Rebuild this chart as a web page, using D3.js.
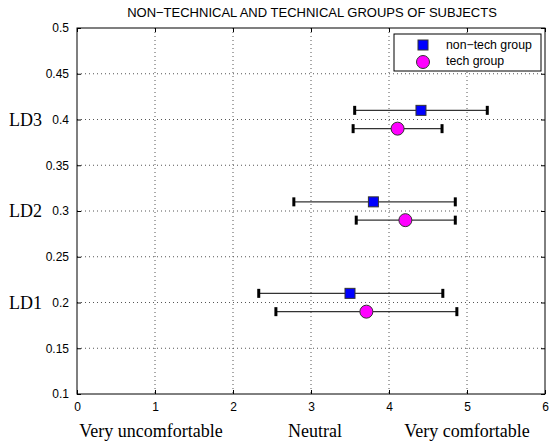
<!DOCTYPE html>
<html lang="en">
<head>
<meta charset="utf-8">
<title>Non-technical and technical groups</title>
<script src="https://cdn.jsdelivr.net/npm/d3@7"></script>
<style>
  body { margin: 0; background: #fff; }
  text { font-family: "Liberation Sans", Arial, sans-serif; }
  .serif { font-family: "Liberation Serif", "Times New Roman", serif; }
</style>
</head>
<body>
<script>
// data
var groups = ["LD1", "LD2", "LD3"];
var groupY = [0.2, 0.3, 0.4];

var nonTechY = [0.21, 0.31, 0.41];
var nonTechMean = [3.5, 3.8, 4.41];
var nonTechLow = [2.33, 2.78, 3.56];
var nonTechHigh = [4.69, 4.85, 5.26];

var techY = [0.19, 0.29, 0.39];
var techMean = [3.71, 4.21, 4.11];
var techLow = [2.55, 3.58, 3.54];
var techHigh = [4.87, 4.85, 4.68];

var xTicks = [0, 1, 2, 3, 4, 5, 6];
var yTicks = [0.1, 0.15, 0.2, 0.25, 0.3, 0.35, 0.4, 0.45, 0.5];
var scaleLabels = ["Very uncomfortable", "Neutral", "Very comfortable"];
var scaleLabelX = [0.95, 3.05, 5.0];
var seriesNames = ["non\u2212tech group", "tech group"];

var W = 549, H = 446;
var plot = {left: 77, right: 545, top: 28, bottom: 394};

var svg = d3.select("body").append("svg")
    .attr("width", W).attr("height", H);

var x = d3.scaleLinear().domain([0, 6]).range([plot.left, plot.right]);
var y = d3.scaleLinear().domain([0.1, 0.5]).range([plot.bottom, plot.top]);

// dotted grid
svg.append("g").selectAll("line")
    .data(xTicks.slice(1, -1)).enter().append("line")
    .attr("x1", function (d) { return x(d); })
    .attr("x2", function (d) { return x(d); })
    .attr("y1", plot.top).attr("y2", plot.bottom)
    .attr("stroke", "#555").attr("stroke-width", 1)
    .attr("stroke-dasharray", "1,3");
svg.append("g").selectAll("line")
    .data(yTicks.slice(1, -1)).enter().append("line")
    .attr("y1", function (d) { return y(d); })
    .attr("y2", function (d) { return y(d); })
    .attr("x1", plot.left).attr("x2", plot.right)
    .attr("stroke", "#555").attr("stroke-width", 1)
    .attr("stroke-dasharray", "1,3");

// axes
var xAxis = d3.axisBottom(x).tickValues(xTicks).tickSize(-4).tickPadding(8).tickFormat(d3.format("d"));
var yAxis = d3.axisLeft(y).tickValues(yTicks).tickSize(-4).tickPadding(8).tickFormat(function (d) { return String(+d.toFixed(2)); });

svg.append("g").attr("transform", "translate(0," + plot.bottom + ")").call(xAxis);
svg.append("g").attr("transform", "translate(" + plot.left + ",0)").call(yAxis);
svg.append("g").attr("transform", "translate(0," + plot.top + ")")
    .call(d3.axisTop(x).tickValues(xTicks).tickSize(-4).tickFormat(""));
svg.append("g").attr("transform", "translate(" + plot.right + ",0)")
    .call(d3.axisRight(y).tickValues(yTicks).tickSize(-4).tickFormat(""));
svg.selectAll(".domain").remove();
svg.selectAll(".tick line").attr("stroke", "#000");
svg.selectAll(".tick text").attr("font-size", 12).attr("fill", "#000")
    .attr("font-family", "Liberation Sans, Arial, sans-serif");

svg.append("rect")
    .attr("x", plot.left).attr("y", plot.top)
    .attr("width", plot.right - plot.left).attr("height", plot.bottom - plot.top)
    .attr("fill", "none").attr("stroke", "#000").attr("stroke-width", 1);

// error bars
function errorBars(ys, lo, hi, col) {
    var g = svg.append("g");
    var idx = d3.range(ys.length);
    g.selectAll("line").data(idx).enter().append("line")
        .attr("x1", function (i) { return x(lo[i]); })
        .attr("x2", function (i) { return x(hi[i]); })
        .attr("y1", function (i) { return y(ys[i]); })
        .attr("y2", function (i) { return y(ys[i]); })
        .attr("stroke", col).attr("stroke-width", 1.2);
    var ends = [];
    idx.forEach(function (i) { ends.push([lo[i], ys[i]], [hi[i], ys[i]]); });
    g.selectAll("rect").data(ends).enter().append("rect")
        .attr("x", function (d) { return x(d[0]) - 1.5; })
        .attr("y", function (d) { return y(d[1]) - 4.5; })
        .attr("width", 3).attr("height", 9)
        .attr("fill", "#000");
}
errorBars(nonTechY, nonTechLow, nonTechHigh, "#333");
errorBars(techY, techLow, techHigh, "#333");

// markers
svg.append("g").selectAll("rect")
    .data(d3.range(nonTechMean.length)).enter().append("rect")
    .attr("x", function (i) { return x(nonTechMean[i]) - 5; })
    .attr("y", function (i) { return y(nonTechY[i]) - 5; })
    .attr("width", 10).attr("height", 10)
    .attr("fill", "#0000ff").attr("stroke", "#333").attr("stroke-width", 1);
svg.append("g").selectAll("circle")
    .data(d3.range(techMean.length)).enter().append("circle")
    .attr("cx", function (i) { return x(techMean[i]); })
    .attr("cy", function (i) { return y(techY[i]); })
    .attr("r", 6.5)
    .attr("fill", "#ff00ff").attr("stroke", "#333").attr("stroke-width", 1);

// title
svg.append("text")
    .attr("x", 312).attr("y", 17)
    .attr("text-anchor", "middle").attr("font-size", 13)
    .text("NON\u2212TECHNICAL AND TECHNICAL GROUPS OF SUBJECTS");

// group labels
svg.selectAll(".grp").data(groups).enter().append("text")
    .attr("class", "serif grp")
    .attr("x", 9)
    .attr("y", function (d, i) { return y(groupY[i]) + 6; })
    .attr("font-size", 18)
    .text(function (d) { return d; });

// scale labels under the axis
svg.selectAll(".scl").data(scaleLabels).enter().append("text")
    .attr("class", "serif scl")
    .attr("x", function (d, i) { return x(scaleLabelX[i]); })
    .attr("y", 437)
    .attr("text-anchor", "middle")
    .attr("font-size", 18)
    .text(function (d) { return d; });

// legend
var lg = svg.append("g");
lg.append("rect")
    .attr("x", 394).attr("y", 34).attr("width", 147).attr("height", 37)
    .attr("fill", "#fff").attr("stroke", "#000");
lg.append("rect")
    .attr("x", 418).attr("y", 40).attr("width", 10).attr("height", 10)
    .attr("fill", "#0000ff").attr("stroke", "#333");
lg.append("circle")
    .attr("cx", 423).attr("cy", 62).attr("r", 6.5)
    .attr("fill", "#ff00ff").attr("stroke", "#333");
lg.selectAll("text").data(seriesNames).enter().append("text")
    .attr("x", 446)
    .attr("y", function (d, i) { return 49 + i * 16; })
    .attr("font-size", 12.3)
    .text(function (d) { return d; });
</script>
</body>
</html>
